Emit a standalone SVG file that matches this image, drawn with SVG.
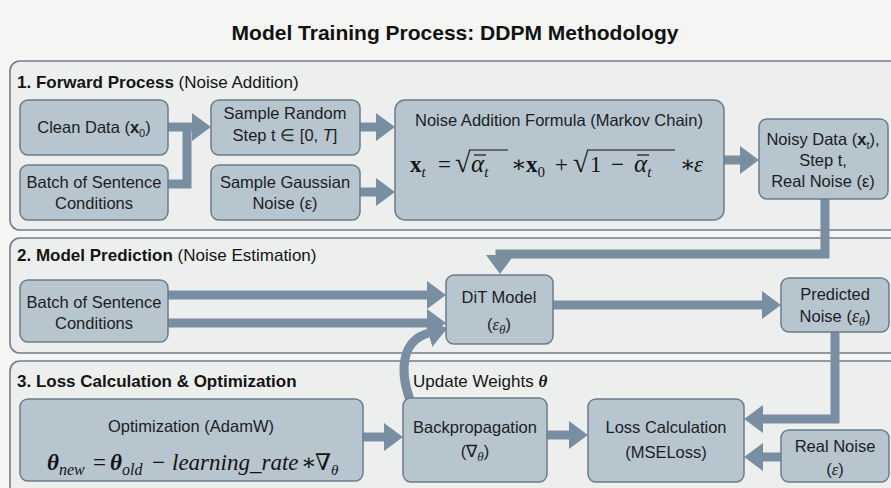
<svg xmlns="http://www.w3.org/2000/svg" width="891" height="488" viewBox="0 0 891 488">
  <defs>
    <style>
      .panel{fill:#edefee;stroke:#727e89;stroke-width:1.6}
      .node{fill:#b7c5cf;stroke:#6b7c8a;stroke-width:1.5}
      .lbl{font-family:"Liberation Sans",Arial,sans-serif;font-size:16.5px;fill:#1b1d1f;text-anchor:middle}
      .sec{font-family:"Liberation Sans",Arial,sans-serif;font-size:17px;fill:#141414}
      .math{font-family:"Liberation Serif","DejaVu Serif",serif;font-size:23px;fill:#141414}
      .mi{font-family:"Liberation Serif","DejaVu Serif",serif;font-style:italic}
      .conn path{fill:none;stroke:#7a8ea2;stroke-width:9;stroke-linejoin:miter}
      .bar{stroke:#141414;stroke-width:1.2}
    </style>
    <marker id="head" viewBox="-0.05 -1.6 2.15 3.2" refX="0" refY="0" markerWidth="2.15" markerHeight="3.2" orient="auto" markerUnits="strokeWidth">
      <path d="M-0.05,-1.6 L2.1,0 L-0.05,1.6 z" fill="#7a8ea2"/>
    </marker>
  </defs>

  <rect width="891" height="488" fill="#f5f5f3"/>

  <text x="455" y="40" font-family="'Liberation Sans',Arial,sans-serif" font-size="21" font-weight="bold" text-anchor="middle" fill="#111">Model Training Process: DDPM Methodology</text>

  <!-- stage panels -->
  <g id="panels">
    <rect class="panel" x="10" y="61" width="895" height="169" rx="10"/>
    <rect class="panel" x="10" y="238" width="895" height="115" rx="10"/>
    <rect class="panel" x="10" y="361" width="895" height="140" rx="10"/>
    <text class="sec" x="17" y="88"><tspan font-weight="bold">1. Forward Process</tspan> (Noise Addition)</text>
    <text class="sec" x="17" y="261"><tspan font-weight="bold">2. Model Prediction</tspan> (Noise Estimation)</text>
    <text class="sec" x="17" y="387"><tspan font-weight="bold">3. Loss Calculation &amp; Optimization</tspan></text>
  </g>

  <!-- connectors -->
  <g id="connectors" class="conn">
    <path d="M168,127 H192" marker-end="url(#head)"/>
    <path d="M168,184 H187 V123"/>
    <path d="M360,127 H376" marker-end="url(#head)"/>
    <path d="M360,192 H376" marker-end="url(#head)"/>
    <path d="M724,160 H740" marker-end="url(#head)"/>
    <path d="M825,199 V254 H500 V255" marker-end="url(#head)"/>
    <path d="M168,295 H427" marker-end="url(#head)"/>
    <path d="M168,323 H427" marker-end="url(#head)"/>
    <path d="M553,305 H762" marker-end="url(#head)"/>
    <path d="M835,332 V419 H763" marker-end="url(#head)"/>
    <path d="M781,457 H763" marker-end="url(#head)"/>
    <path d="M362,437 H384" marker-end="url(#head)"/>
    <path d="M547,435 H569" marker-end="url(#head)"/>
    <path d="M410,400 C399,370 402,340 429,333" stroke-width="8" marker-end="url(#head)"/>
  </g>
  <text x="413" y="387" class="sec" font-size="16.5">Update Weights <tspan class="mi" font-weight="bold">θ</tspan></text>

  <!-- stage 1 -->
  <g id="clean-data">
    <rect class="node" x="20" y="100" width="148" height="55" rx="8"/>
    <text class="lbl" x="94" y="133">Clean Data (<tspan font-weight="bold">x</tspan><tspan font-size="11" dy="4">0</tspan><tspan dy="-4">)</tspan></text>
  </g>
  <g id="batch-forward">
    <rect class="node" x="20" y="165" width="148" height="55" rx="8"/>
    <text class="lbl" x="94" y="188">Batch of Sentence</text>
    <text class="lbl" x="94" y="209">Conditions</text>
  </g>
  <g id="sample-step">
    <rect class="node" x="211" y="100" width="149" height="55" rx="8"/>
    <text class="lbl" x="285" y="119">Sample Random</text>
    <text class="lbl" x="285" y="141">Step t ∈ [0, <tspan font-style="italic">T</tspan>]</text>
  </g>
  <g id="sample-noise">
    <rect class="node" x="211" y="165" width="149" height="55" rx="8"/>
    <text class="lbl" x="285" y="188">Sample Gaussian</text>
    <text class="lbl" x="285" y="209">Noise (ε)</text>
  </g>
  <g id="noise-formula">
    <rect class="node" x="395" y="100" width="329" height="120" rx="10"/>
    <text class="lbl" x="559" y="126">Noise Addition Formula (Markov Chain)</text>
    <text class="math" y="172"><tspan x="410" font-weight="bold">x</tspan><tspan class="mi" font-size="15" dy="5">t</tspan><tspan x="438" dy="-5">=</tspan><tspan x="455" font-size="28">√</tspan><tspan x="471" class="mi" font-size="25">α</tspan><tspan class="mi" font-size="15" dy="5">t</tspan><tspan x="511" dy="-5">∗</tspan><tspan x="526" font-weight="bold">x</tspan><tspan font-size="15" dy="5">0</tspan><tspan x="555" dy="-5">+</tspan><tspan x="573" font-size="28">√</tspan><tspan x="590">1</tspan><tspan x="611">−</tspan><tspan x="634" class="mi" font-size="25">α</tspan><tspan class="mi" font-size="15" dy="5">t</tspan><tspan x="680" dy="-5">∗</tspan><tspan x="694" class="mi">ε</tspan></text>
    <line class="bar" x1="469" y1="150" x2="508" y2="150"/>
    <line class="bar" x1="474" y1="155" x2="486" y2="155"/>
    <line class="bar" x1="587" y1="150" x2="675" y2="150"/>
    <line class="bar" x1="637" y1="155" x2="649" y2="155"/>
  </g>
  <g id="noisy-data">
    <rect class="node" x="759" y="119" width="129" height="80" rx="8"/>
    <text class="lbl" x="823" y="145">Noisy Data (<tspan font-weight="bold">x</tspan><tspan font-size="11" dy="4">t</tspan><tspan dy="-4">),</tspan></text>
    <text class="lbl" x="823" y="166">Step t,</text>
    <text class="lbl" x="823" y="187">Real Noise (ε)</text>
  </g>

  <!-- stage 2 -->
  <g id="batch-predict">
    <rect class="node" x="20" y="280" width="148" height="62" rx="8"/>
    <text class="lbl" x="94" y="308">Batch of Sentence</text>
    <text class="lbl" x="94" y="329">Conditions</text>
  </g>
  <g id="dit-model">
    <rect class="node" x="446" y="275" width="107" height="69" rx="8"/>
    <text class="lbl" x="499" y="303">DiT Model</text>
    <text class="lbl" x="499" y="330" font-family="'Liberation Serif',serif" font-size="19">(<tspan class="mi">ε</tspan><tspan class="mi" font-size="13" dy="4">θ</tspan><tspan dy="-4">)</tspan></text>
  </g>
  <g id="predicted-noise">
    <rect class="node" x="781" y="278" width="108" height="54" rx="8"/>
    <text class="lbl" x="835" y="300">Predicted</text>
    <text class="lbl" x="835" y="322">Noise (<tspan class="mi" font-size="18">ε</tspan><tspan class="mi" font-size="12" dy="4">θ</tspan><tspan dy="-4">)</tspan></text>
  </g>

  <!-- stage 3 -->
  <g id="optimizer">
    <rect class="node" x="20" y="399" width="343" height="82" rx="8"/>
    <text class="lbl" x="191" y="432">Optimization (AdamW)</text>
    <text class="math" y="470"><tspan x="47" class="mi" font-weight="bold">θ</tspan><tspan class="mi" font-size="16" dy="5">new</tspan><tspan x="93" dy="-5">=</tspan><tspan x="110" class="mi" font-weight="bold">θ</tspan><tspan class="mi" font-size="16" dy="5">old</tspan><tspan x="152" dy="-5">−</tspan><tspan x="172" class="mi">learning_rate</tspan><tspan x="301">∗</tspan><tspan x="315">∇</tspan><tspan class="mi" font-size="15" dy="5">θ</tspan></text>
  </g>
  <g id="backprop">
    <rect class="node" x="403" y="398" width="144" height="84" rx="8"/>
    <text class="lbl" x="475" y="433">Backpropagation</text>
    <text class="lbl" x="475" y="457" font-family="'Liberation Serif',serif" font-size="19">(∇<tspan class="mi" font-size="13" dy="4">θ</tspan><tspan dy="-4">)</tspan></text>
  </g>
  <g id="loss">
    <rect class="node" x="588" y="399" width="156" height="83" rx="8"/>
    <text class="lbl" x="666" y="433">Loss Calculation</text>
    <text class="lbl" x="666" y="458">(MSELoss)</text>
  </g>
  <g id="real-noise">
    <rect class="node" x="781" y="430" width="108" height="52" rx="8"/>
    <text class="lbl" x="835" y="452">Real Noise</text>
    <text class="lbl" x="835" y="475" font-family="'Liberation Serif',serif" font-size="19">(<tspan class="mi">ε</tspan>)</text>
  </g>
</svg>
